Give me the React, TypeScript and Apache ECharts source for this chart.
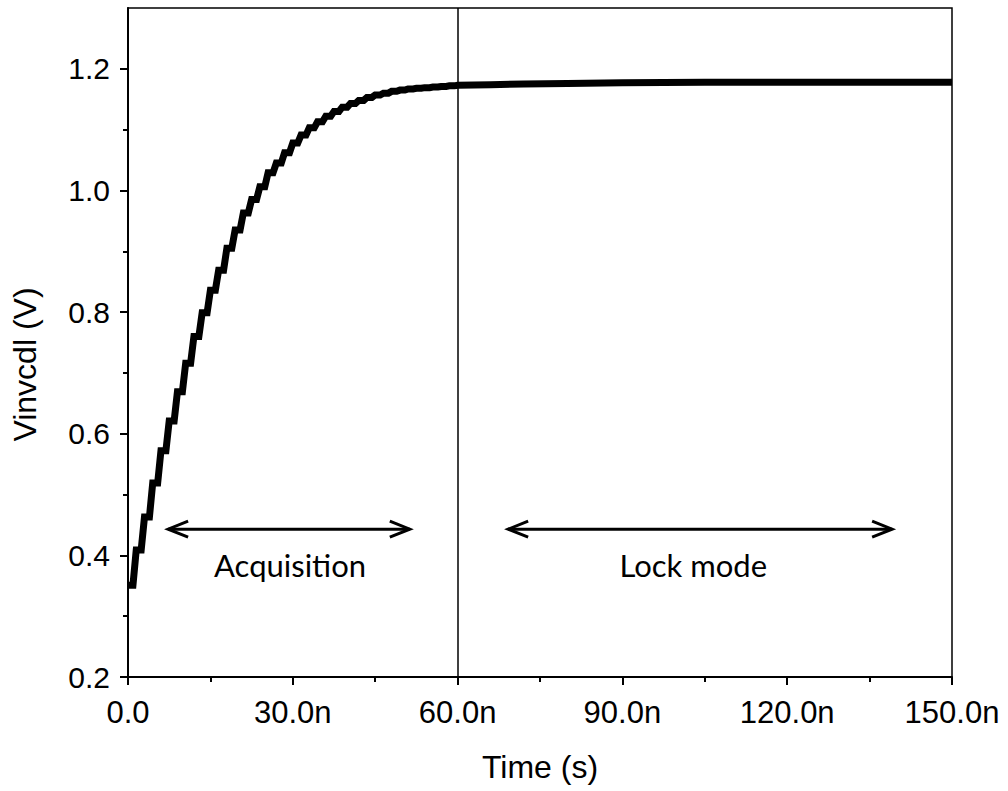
import React, { useEffect, useRef } from "react";
import * as echarts from "echarts";

// Step period (ns) of the acquisition staircase
const stepPeriod = 1.5;
// Fraction of each step that is held flat before the next rise
const holdFraction = 0.6;
// Voltage level of each step during acquisition (0 .. 60 ns)
const acquisitionLevels = [
  0.351, 0.409, 0.463, 0.519, 0.572, 0.621, 0.669, 0.716, 0.76, 0.799,
  0.836, 0.869, 0.905, 0.935, 0.963, 0.985, 1.006, 1.029, 1.045, 1.062,
  1.078, 1.091, 1.103, 1.113, 1.122, 1.13, 1.137, 1.143, 1.148, 1.153,
  1.157, 1.16, 1.163, 1.165, 1.167, 1.168, 1.169, 1.17, 1.171, 1.172,
];
// Lock mode: [time ns, voltage]
const lockPoints: [number, number][] = [
  [60, 1.173],
  [66, 1.174],
  [72, 1.175],
  [80, 1.176],
  [90, 1.177],
  [105, 1.178],
  [150, 1.178],
];
const xTicks = [0, 30, 60, 90, 120, 150];
const yTicks = [0.2, 0.4, 0.6, 0.8, 1.0, 1.2];
const yMinorTicks = [0.3, 0.5, 0.7, 0.9, 1.1];
const boundaryTime = 60;
// Annotations: arrows [tStart, tEnd, v] and labels
const acquisitionArrow = [7.3, 51.3, 0.443];
const lockArrow = [69.2, 139.1, 0.443];
const acquisitionLabel = { text: "Acquisition", t: 29.5, v: 0.384 };
const lockLabel = { text: "Lock mode", t: 102.9, v: 0.384 };

export default function App() {
  const ref = useRef<HTMLDivElement>(null);
  useEffect(() => {
    if (!ref.current) return;
    const chart = echarts.init(ref.current, null, { renderer: "svg" });
    const data: [number, number][] = [];
    acquisitionLevels.forEach((v, i) => {
      data.push([i * stepPeriod, v]);
      data.push([(i + holdFraction) * stepPeriod, v]);
    });
    lockPoints.forEach((p) => data.push(p));
    const font = "Liberation Sans, Arial, sans-serif";
    chart.setOption({
      animation: false,
      backgroundColor: "#fff",
      grid: {
        left: 128,
        right: 56,
        top: 8,
        bottom: 114,
        show: true,
        borderColor: "#000",
        borderWidth: 1.5,
      },
      xAxis: {
        type: "value",
        min: 0,
        max: 150,
        interval: 30,
        name: "Time (s)",
        nameLocation: "middle",
        nameGap: 74,
        nameTextStyle: { fontFamily: font, fontSize: 32, color: "#000" },
        axisLine: { lineStyle: { color: "#000", width: 2 } },
        axisTick: { inside: false, length: 8, lineStyle: { color: "#000", width: 2 } },
        minorTick: { show: true, splitNumber: 2, length: 5, lineStyle: { color: "#000", width: 2 } },
        splitLine: { show: false },
        axisLabel: {
          fontFamily: font,
          fontSize: 31,
          color: "#000",
          margin: 20,
          customValues: xTicks,
          formatter: (v: number) => (v === 0 ? "0.0" : v.toFixed(1) + "n"),
        },
      },
      yAxis: [
        {
          type: "value",
          min: 0.2,
          max: 1.3,
          interval: 0.2,
          name: "Vinvcdl (V)",
          nameLocation: "middle",
          nameGap: 87,
          nameTextStyle: {
            fontFamily: font,
            fontSize: 32,
            color: "#000",
            padding: [0, 44, 0, 0],
          },
          axisLine: { lineStyle: { color: "#000", width: 2 } },
          axisTick: {
            length: 8,
            customValues: yTicks,
            lineStyle: { color: "#000", width: 2 },
          },
          splitLine: { show: false },
          axisLabel: {
            fontFamily: font,
            fontSize: 30,
            color: "#000",
            margin: 18,
            customValues: yTicks,
            formatter: (v: number) => v.toFixed(1),
          },
        },
        {
          type: "value",
          min: 0.2,
          max: 1.3,
          interval: 0.2,
          position: "left",
          axisLine: { show: false },
          axisLabel: { show: false },
          splitLine: { show: false },
          axisTick: {
            show: true,
            length: 5,
            customValues: yMinorTicks,
            lineStyle: { color: "#000", width: 2 },
          },
        },
      ],
      series: [
        {
          type: "line",
          data,
          showSymbol: false,
          lineStyle: { color: "#000", width: 7, join: "miter" },
          markLine: {
            silent: true,
            symbol: "none",
            label: { show: false },
            lineStyle: { color: "#000", width: 1.5, type: "solid" },
            data: [{ xAxis: boundaryTime }],
          },
        },
      ],
    });

    const px = (t: number, v: number) =>
      chart.convertToPixel({ gridIndex: 0 }, [t, v]) as number[];
    const arrowGraphic = (a: number[]) => {
      const p0 = px(a[0], a[2]);
      const p1 = px(a[1], a[2]);
      const L = 20;
      const H = 8;
      const st = { stroke: "#000", lineWidth: 3, fill: null };
      return [
        { type: "line", shape: { x1: p0[0], y1: p0[1], x2: p1[0], y2: p1[1] }, style: st },
        {
          type: "polyline",
          shape: { points: [[p0[0] + L, p0[1] - H], [p0[0], p0[1]], [p0[0] + L, p0[1] + H]] },
          style: st,
        },
        {
          type: "polyline",
          shape: { points: [[p1[0] - L, p1[1] - H], [p1[0], p1[1]], [p1[0] - L, p1[1] + H]] },
          style: st,
        },
      ];
    };
    const labelGraphic = (l: { text: string; t: number; v: number }) => {
      const p = px(l.t, l.v);
      return {
        type: "text",
        x: p[0],
        y: p[1],
        style: {
          text: l.text,
          fontFamily: "Lato",
          fontSize: 31,
          fill: "#000",
          align: "center",
          verticalAlign: "middle",
        },
      };
    };
    chart.setOption({
      graphic: [
        ...arrowGraphic(acquisitionArrow),
        ...arrowGraphic(lockArrow),
        labelGraphic(acquisitionLabel),
        labelGraphic(lockLabel),
      ],
    });
    return () => chart.dispose();
  }, []);
  return (
    <div
      ref={ref}
      style={{ position: "fixed", left: 0, top: 0, width: 1008, height: 791 }}
    />
  );
}
